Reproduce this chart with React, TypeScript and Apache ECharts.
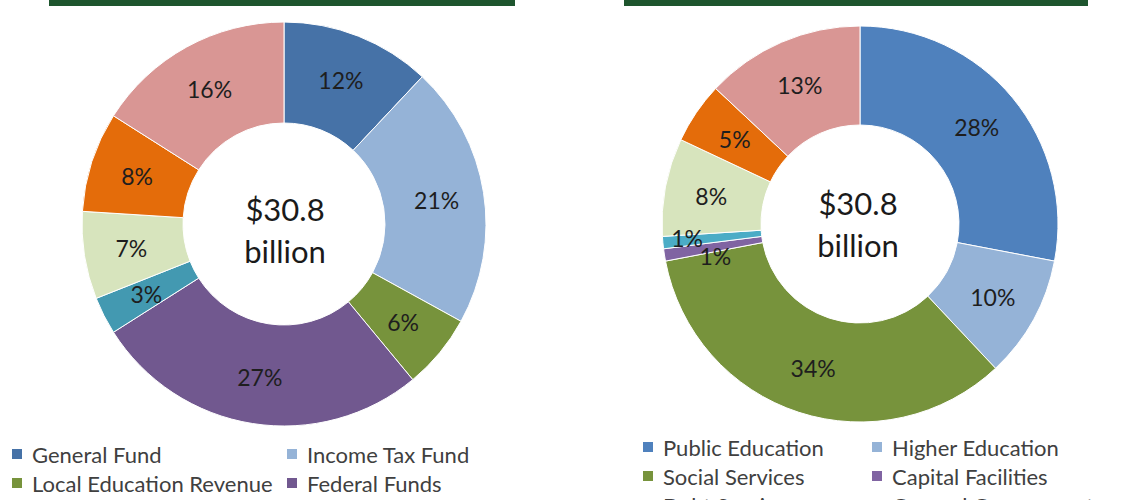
import React, { useEffect, useRef } from "react";
import * as echarts from "echarts";

// revenue side (left donut)
const revenueNames = [
  "General Fund",
  "Income Tax Fund",
  "Local Education Revenue",
  "Federal Funds",
  "Special Funds",
  "Transportation Funds",
  "Lottery Funds",
  "Other Funds",
];
const revenueShares = [12, 21, 6, 27, 3, 7, 8, 16];
const revenueColors = ["#4672a7", "#95b3d7", "#77933c", "#71588f", "#4399b1", "#d7e4bd", "#e46c0a", "#d99694"];

// spending side (right donut)
const spendingNames = [
  "Public Education",
  "Higher Education",
  "Social Services",
  "Capital Facilities",
  "Debt Service",
  "General Government",
  "Public Safety",
  "Other Spending",
];
const spendingShares = [28, 10, 34, 1, 1, 8, 5, 13];
const spendingColors = ["#4f81bd", "#95b3d7", "#77933c", "#8064a2", "#4bacc6", "#d7e4bd", "#e46c0a", "#d99694"];

const totalLabel = "$30.8\nbillion";

const FONT = "Lato, 'Open Sans', sans-serif";

function legendCol(left: number, top: number, names: string[]) {
  return {
    orient: "vertical",
    left,
    top,
    height: 120,
    padding: 0,
    data: names,
    icon: "rect",
    itemWidth: 12,
    itemHeight: 12,
    itemGap: 7,
    selectedMode: false,
    textStyle: {
      fontFamily: FONT,
      fontSize: 22,
      lineHeight: 22,
      color: "#404040",
      padding: [0, 0, 0, 4],
    },
  };
}

export default function App() {
  const chartRef = useRef<HTMLDivElement>(null);

  useEffect(() => {
    if (!chartRef.current) return;
    const chart = echarts.init(chartRef.current, undefined, { renderer: "svg" });

    const pieBase = {
      type: "pie",
      startAngle: 90,
      clockwise: true,
      silent: true,
      avoidLabelOverlap: false,
      labelLayout: { hideOverlap: false },
      itemStyle: { borderColor: "#ffffff", borderWidth: 1 },
      label: {
        show: true,
        position: "inside",
        formatter: "{c}%",
        fontFamily: FONT,
        fontSize: 23,
        color: "#1e1e1e",
      },
      labelLine: { show: false },
    };

    chart.setOption({
      animation: false,
      legend: [
        legendCol(10, 443, [revenueNames[0], revenueNames[2]]),
        legendCol(285, 443, [revenueNames[1], revenueNames[3]]),
        legendCol(641, 436, [spendingNames[0], spendingNames[2], spendingNames[4]]),
        legendCol(870, 436, [spendingNames[1], spendingNames[3], spendingNames[5]]),
      ],
      graphic: [
        { type: "rect", shape: { x: 49, y: 0, width: 466, height: 6 }, style: { fill: "#1e552e" } },
        { type: "rect", shape: { x: 624, y: 0, width: 464, height: 6 }, style: { fill: "#1e552e" } },
        {
          type: "text",
          x: 285,
          y: 230,
          style: {
            text: totalLabel,
            align: "center",
            verticalAlign: "middle",
            fontFamily: FONT,
            fontSize: 31,
            lineHeight: 42,
            fill: "#1a1a1a",
          },
        },
        {
          type: "text",
          x: 858,
          y: 224,
          style: {
            text: totalLabel,
            align: "center",
            verticalAlign: "middle",
            fontFamily: FONT,
            fontSize: 31,
            lineHeight: 42,
            fill: "#1a1a1a",
          },
        },
      ],
      series: [
        {
          ...pieBase,
          name: "Revenue",
          center: [284, 224],
          radius: [101, 202],
          data: revenueNames.map((name, i) => ({
            name,
            value: revenueShares[i],
            itemStyle: { color: revenueColors[i] },
          })),
        },
        {
          ...pieBase,
          name: "Spending",
          center: [860, 224],
          radius: [99, 198],
          data: spendingNames.map((name, i) => {
            const item: any = {
              name,
              value: spendingShares[i],
              itemStyle: { color: spendingColors[i] },
            };
            // nudge the two tiny slices' labels apart like the original
            if (name === "Capital Facilities") item.label = { offset: [5, 8] };
            if (name === "Debt Service") item.label = { offset: [-22, 0] };
            return item;
          }),
        },
      ],
    });

    return () => {
      chart.dispose();
    };
  }, []);

  return (
    <div style={{ position: "fixed", left: 0, top: 0 }}>
      <div ref={chartRef} style={{ width: "1140px", height: "500px", background: "#ffffff" }} />
    </div>
  );
}
